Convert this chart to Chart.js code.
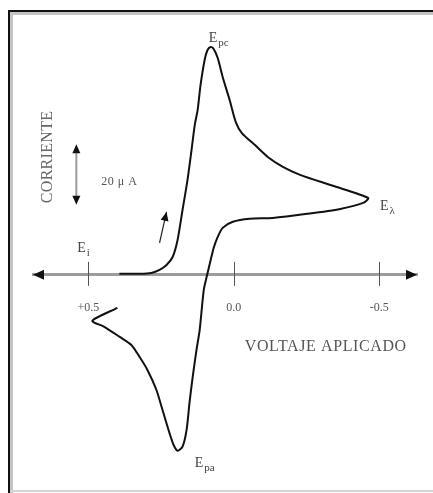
<!DOCTYPE html>
<html>
<head>
<meta charset="utf-8">
<script src="https://cdn.jsdelivr.net/npm/chart.js@4.4.0/dist/chart.umd.min.js"></script>
<style>
html, body { margin: 0; padding: 0; background: #fff; }
</style>
</head>
<body>
<canvas id="voltChart" width="433" height="493"></canvas>
<script>
// barrido: potencial aplicado (V) y corriente (uA)
var potencial = [0.393, 0.324, 0.283, 0.255, 0.231, 0.210, 0.193, 0.176, 0.159, 0.145,
                 0.134, 0.124, 0.114, 0.100, 0.090, 0.079, 0.069, 0.055, 0.038, 0.014,
                 -0.007, -0.028, -0.072, -0.117, -0.169, -0.228, -0.341, -0.462,
                 -0.445, -0.366, -0.252, -0.134, -0.055, 0.003, 0.038, 0.055, 0.069, 0.079,
                 0.093, 0.103, 0.117, 0.128, 0.141, 0.152, 0.162, 0.176, 0.193, 0.207,
                 0.221, 0.245, 0.266, 0.297, 0.324, 0.352, 0.393, 0.445, 0.486, 0.400];
var corriente = [0.4, 0.4, 0.7, 1.8, 3.6, 6.5, 12.7, 23.6, 34.5, 45.5,
                 54.5, 60.0, 69.1, 78.2, 81.8, 82.9, 82.2, 78.9, 72.0, 63.6,
                 55.6, 51.6, 47.3, 42.9, 39.3, 36.4, 32.4, 28.0,
                 26.2, 24.0, 22.2, 20.7, 20.4, 19.3, 17.1, 13.8, 9.8, 5.5,
                 -0.7, -5.5, -20.0, -27.3, -37.1, -46.5, -56.4, -62.5, -64.0, -61.8,
                 -57.5, -49.1, -41.8, -34.5, -29.8, -25.5, -22.5, -18.9, -16.7, -12.0];
var ticksX = [0.5, 0.0, -0.5];
var etiquetasX = ['+0.5', '0.0', '-0.5'];

var serif = '"Liberation Serif", "DejaVu Serif", serif';

// rotulos de potencial: [texto, subindice, E, I]
var rotulos = [
    ['E', 'pc', 0.086, 84.7],
    ['E', '\u03bb', -0.503, 23.6],
    ['E', 'i', 0.538, 8.4],
    ['E', 'pa', 0.134, -69.8]
];

function flecha(ctx, x0, y0, x1, y1, largo, ancho) {
    var ang = Math.atan2(y1 - y0, x1 - x0);
    ctx.beginPath();
    ctx.moveTo(x1, y1);
    ctx.lineTo(x1 - largo * Math.cos(ang) + ancho * Math.sin(ang), y1 - largo * Math.sin(ang) - ancho * Math.cos(ang));
    ctx.lineTo(x1 - largo * Math.cos(ang) - ancho * Math.sin(ang), y1 - largo * Math.sin(ang) + ancho * Math.cos(ang));
    ctx.closePath();
    ctx.fill();
}

var marco = {
    id: 'marco',
    beforeDraw: function (chart) {
        var ctx = chart.ctx, w = chart.width, h = chart.height;
        ctx.save();
        ctx.fillStyle = '#fff';
        ctx.fillRect(0, 0, w, h);
        ctx.strokeStyle = '#c4c4c4';
        ctx.lineWidth = 3;
        ctx.beginPath();
        ctx.moveTo(11.5, h); ctx.lineTo(11.5, 13.5); ctx.lineTo(w, 13.5);
        ctx.stroke();
        ctx.strokeStyle = '#111';
        ctx.lineWidth = 2;
        ctx.beginPath();
        ctx.moveTo(9, h); ctx.lineTo(9, 11); ctx.lineTo(w, 11);
        ctx.stroke();
        ctx.strokeStyle = '#d4d4d4';
        ctx.lineWidth = 2;
        ctx.beginPath();
        ctx.moveTo(10, h - 2); ctx.lineTo(w, h - 2);
        ctx.stroke();
        ctx.restore();
    },
    beforeDatasetsDraw: function (chart) {
        var ctx = chart.ctx, sx = chart.scales.x, sy = chart.scales.y, a = chart.chartArea;
        var y0 = sy.getPixelForValue(0);
        ctx.save();
        // marcas del eje de potencial
        ctx.strokeStyle = '#555';
        ctx.lineWidth = 1;
        ticksX.forEach(function (v) {
            var x = Math.round(sx.getPixelForValue(v)) + 0.5;
            ctx.beginPath();
            ctx.moveTo(x, y0 - 13); ctx.lineTo(x, y0 + 11);
            ctx.stroke();
        });
        // puntas del eje
        ctx.fillStyle = '#111';
        flecha(ctx, a.left + 20, y0, a.left, y0, 11, 5);
        flecha(ctx, a.right - 20, y0, a.right, y0, 11, 5);

        // escala de corriente (20 uA)
        var xb = sx.getPixelForValue(0.541);
        var yt = sy.getPixelForValue(47.5), yb = sy.getPixelForValue(25.5);
        ctx.strokeStyle = '#9c9c9c';
        ctx.lineWidth = 2;
        ctx.beginPath();
        ctx.moveTo(xb, yt + 6); ctx.lineTo(xb, yb - 6);
        ctx.stroke();
        flecha(ctx, xb, yt + 10, xb, yt, 9, 4);
        flecha(ctx, xb, yb - 10, xb, yb, 9, 4);

        // sentido del barrido
        var ax0 = sx.getPixelForValue(0.255), ay0 = sy.getPixelForValue(11.6);
        var ax1 = sx.getPixelForValue(0.231), ay1 = sy.getPixelForValue(22.9);
        ctx.strokeStyle = '#222';
        ctx.lineWidth = 1.2;
        ctx.beginPath();
        ctx.moveTo(ax0, ay0); ctx.lineTo(ax1, ay1);
        ctx.stroke();
        flecha(ctx, ax0, ay0, ax1, ay1, 9, 4);
        ctx.restore();
    },
    afterDatasetsDraw: function (chart) {
        var ctx = chart.ctx, sx = chart.scales.x, sy = chart.scales.y;
        ctx.save();
        ctx.textBaseline = 'alphabetic';
        ctx.textAlign = 'left';
        ctx.fillStyle = '#444';
        rotulos.forEach(function (r) {
            var x = sx.getPixelForValue(r[2]), y = sy.getPixelForValue(r[3]);
            ctx.font = '14px ' + serif;
            ctx.fillText(r[0], x, y);
            var w = ctx.measureText(r[0]).width;
            ctx.font = '11px ' + serif;
            ctx.fillText(r[1], x + w + 1, y + 4);
        });

        ctx.fillStyle = '#555';
        ctx.font = '16px ' + serif;
        ctx.letterSpacing = '0.6px';
        ctx.fillText('VOLTAJE APLICADO', sx.getPixelForValue(-0.038), sy.getPixelForValue(-27.6));

        ctx.font = '12px ' + serif;
        ctx.letterSpacing = '0.5px';
        ctx.textBaseline = 'middle';
        ctx.fillText('20 \u03bc A', sx.getPixelForValue(0.455), sy.getPixelForValue(33.8));

        ctx.translate(sx.getPixelForValue(0.638), sy.getPixelForValue(42.9));
        ctx.rotate(-Math.PI / 2);
        ctx.textAlign = 'center';
        ctx.font = '16px ' + serif;
        ctx.letterSpacing = '0.3px';
        ctx.fillStyle = '#666';
        ctx.fillText('CORRIENTE', 0, 0);
        ctx.restore();
    }
};

var puntos = potencial.map(function (e, i) {
    return { x: e, y: corriente[i] };
});

var voltChart = new Chart('voltChart', {
    type: 'scatter',
    data: {
        datasets: [{
            label: 'corriente',
            data: puntos,
            showLine: true,
            borderColor: '#111',
            borderWidth: 2,
            pointRadius: 0,
            tension: 0.25,
            fill: false
        }]
    },
    options: {
        responsive: false,
        animation: false,
        devicePixelRatio: 1,
        events: [],
        layout: { padding: { left: 33, right: 16, top: 22, bottom: 12 } },
        plugins: {
            legend: { display: false },
            tooltip: { enabled: false }
        },
        scales: {
            x: {
                type: 'linear',
                min: -0.63,
                max: 0.69,
                reverse: true,
                position: { y: 0 },
                grid: { display: false, drawTicks: false },
                border: { display: true, color: '#9c9c9c', width: 3 },
                afterBuildTicks: function (scale) {
                    scale.ticks = ticksX.map(function (v) { return { value: v }; });
                },
                ticks: {
                    padding: 26,
                    color: '#555',
                    font: { family: serif, size: 12 },
                    callback: function (value) {
                        return etiquetasX[ticksX.indexOf(value)];
                    }
                }
            },
            y: {
                min: -75,
                max: 92,
                display: false
            }
        }
    },
    plugins: [marco]
});
</script>
</body>
</html>
